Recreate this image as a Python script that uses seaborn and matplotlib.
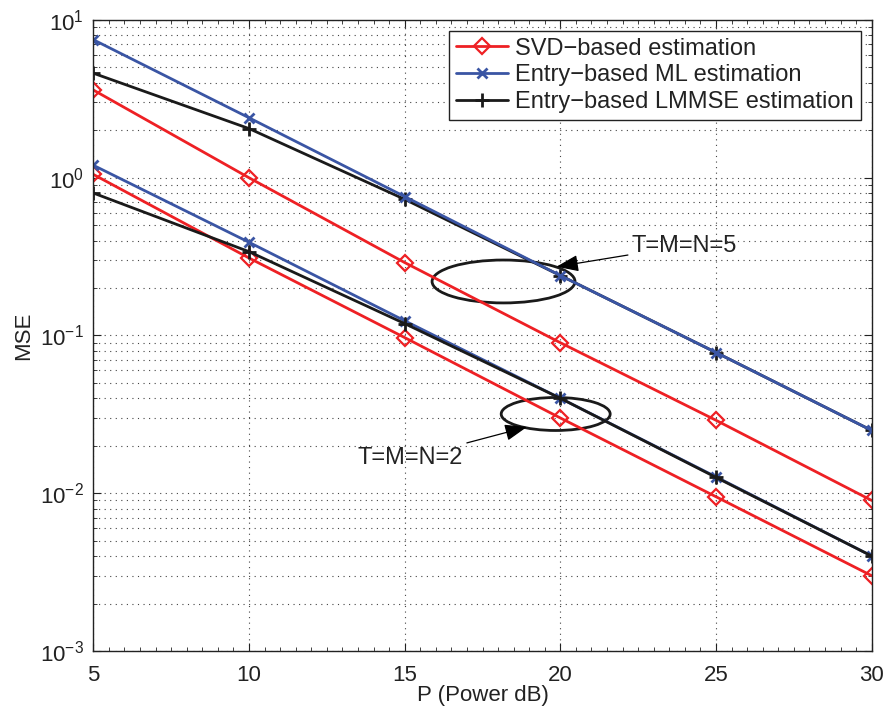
import matplotlib
matplotlib.use("Agg")
import matplotlib.pyplot as plt
from matplotlib.patches import Ellipse
from matplotlib.ticker import LogLocator, MultipleLocator, NullFormatter
import numpy as np
import pandas as pd
import seaborn as sns

# Transmit power (dB)
power_db = [5, 10, 15, 20, 25, 30]

# MSE curves, T=M=N=5
svd_5 = [3.6, 1.0, 0.29, 0.09, 0.029, 0.009]
ml_5 = [7.5, 2.4, 0.76, 0.24, 0.078, 0.025]
lmmse_5 = [4.6, 2.05, 0.73, 0.24, 0.078, 0.025]

# MSE curves, T=M=N=2
svd_2 = [1.05, 0.31, 0.097, 0.030, 0.0095, 0.003]
ml_2 = [1.2, 0.39, 0.124, 0.040, 0.0127, 0.004]
lmmse_2 = [0.80, 0.34, 0.119, 0.040, 0.0126, 0.004]

labels = ["SVD\u2212based estimation",
          "Entry\u2212based ML estimation",
          "Entry\u2212based LMMSE estimation"]

sns.set_theme(style="ticks")
plt.rcParams["font.family"] = ["Liberation Sans", "DejaVu Sans"]
plt.rcParams["mathtext.fontset"] = "custom"
plt.rcParams["mathtext.rm"] = "Liberation Sans"

fig = plt.figure(figsize=(8.86, 7.06), dpi=100)
ax = fig.add_axes([0.1053, 0.0779, 0.8786, 0.8938])

red = "#ee2024"
blue = "#3a55a4"
black = "#1a1a1a"
text_col = "#222222"

styles = [
    (red, "D", dict(markerfacecolor="none", markeredgecolor=red, markersize=8, markeredgewidth=1.6)),
    (blue, "x", dict(markeredgecolor=blue, markersize=7, markeredgewidth=2)),
    (black, "+", dict(markeredgecolor=black, markersize=10, markeredgewidth=2)),
]

# (series index, values) in drawing order for each antenna configuration
groups = [
    [(0, svd_5), (2, lmmse_5), (1, ml_5)],
    [(0, svd_2), (1, ml_2), (2, lmmse_2)],
]
for gi, group in enumerate(groups):
    for si, values in group:
        color, marker, mkw = styles[si]
        df = pd.DataFrame({"P": power_db, "MSE": values})
        sns.lineplot(data=df, x="P", y="MSE", ax=ax, color=color, marker=marker,
                     linewidth=2, label=labels[si] if gi == 0 else None,
                     legend=False, **mkw)

ax.set_yscale("log")
ax.set_xlim(5, 30)
ax.set_ylim(1e-3, 1e1)
ax.xaxis.set_major_locator(MultipleLocator(5))
ax.xaxis.set_minor_locator(MultipleLocator(0.5))
ax.yaxis.set_major_locator(LogLocator(base=10, numticks=10))
ax.yaxis.set_minor_locator(LogLocator(base=10, subs=np.arange(2, 10), numticks=20))
ax.yaxis.set_minor_formatter(NullFormatter())

ax.grid(True, which="major", axis="both", linestyle=(0, (1, 4)), color="#444444", linewidth=0.8)
ax.grid(True, which="minor", axis="y", linestyle=(0, (1, 4)), color="#444444", linewidth=0.8)

ax.tick_params(which="both", direction="in", top=True, right=True, labelsize=16, colors=text_col)
ax.tick_params(which="major", length=6, width=0.8)
ax.tick_params(which="minor", length=3, width=0.6)
ax.tick_params(axis="x", which="major", pad=10)
ax.tick_params(axis="y", which="major", pad=7)
for sp in ax.spines.values():
    sp.set_linewidth(1.0)
    sp.set_color(text_col)

ax.set_xlabel("P (Power dB)", fontsize=16, labelpad=-1, color=text_col)
ax.set_ylabel("MSE", fontsize=16, labelpad=4, color=text_col)

# Group markers: ellipses with annotation arrows
ax.add_patch(Ellipse((0.527, 0.5856), 0.1836, 0.068, transform=ax.transAxes,
                     fill=False, edgecolor=black, linewidth=2))
ax.add_patch(Ellipse((0.594, 0.3756), 0.140, 0.0523, transform=ax.transAxes,
                     fill=False, edgecolor=black, linewidth=2))

ax.annotate("T=M=N=5", xy=(0.595, 0.609), xycoords="axes fraction",
            xytext=(0.691, 0.642), textcoords="axes fraction",
            fontsize=17, va="center", ha="left", color=text_col,
            arrowprops=dict(arrowstyle="-|>,head_length=0.8,head_width=0.3",
                            color="black", linewidth=0.9, shrinkA=0, shrinkB=0))
ax.annotate("T=M=N=2", xy=(0.557, 0.355), xycoords="axes fraction",
            xytext=(0.475, 0.306), textcoords="axes fraction",
            fontsize=17, va="center", ha="right", color=text_col,
            arrowprops=dict(arrowstyle="-|>,head_length=0.8,head_width=0.3",
                            color="black", linewidth=0.9, shrinkA=2, shrinkB=0))

handles, hlabels = ax.get_legend_handles_labels()
by_label = dict(zip(hlabels, handles))
leg = ax.legend([by_label[l] for l in labels], labels,
                loc="upper right", fontsize=17, frameon=True, fancybox=False,
                edgecolor=text_col, framealpha=1, borderpad=0.3, labelspacing=0.2,
                handlelength=2.2, handletextpad=0.3, borderaxespad=0.45)
leg.get_frame().set_linewidth(1.0)
for t in leg.get_texts():
    t.set_color(text_col)

fig.savefig("out.png", dpi=100)
